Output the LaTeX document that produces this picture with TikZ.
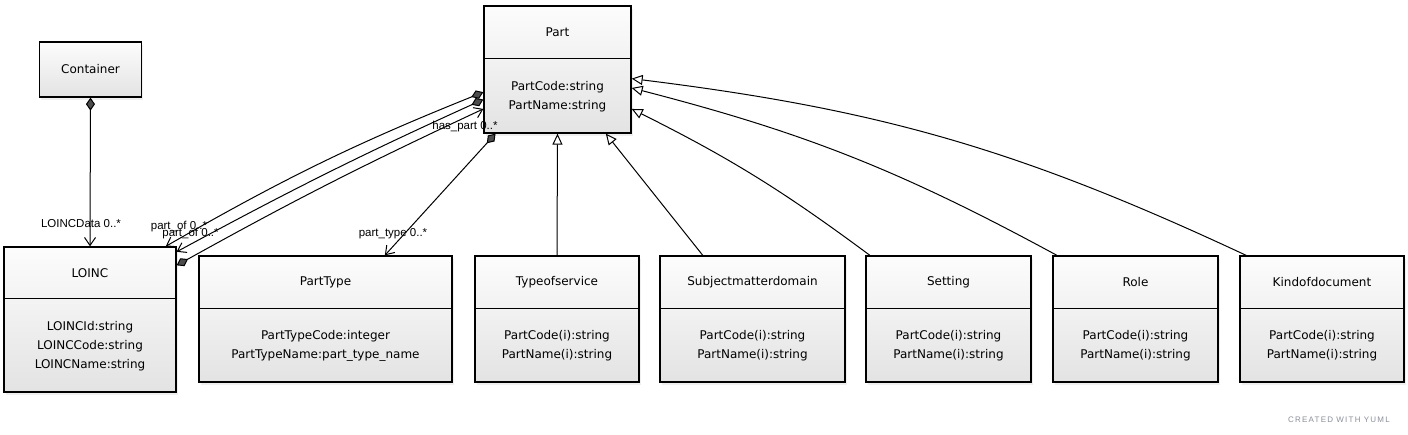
\documentclass[tikz,border=0pt]{standalone}
\usepackage{fontspec}
\newfontfamily\boxfont{DejaVu Sans}
\newfontfamily\labelfont{Liberation Sans}
\newfontfamily\yumlfont[LetterSpace=15]{Liberation Sans}
\usetikzlibrary{arrows.meta,shadows}
\definecolor{yumlgray}{HTML}{8A8F99}
\tikzset{classbox/.style={draw=black, line width=1.3pt, top color=black!1, bottom color=black!11, drop shadow={opacity=0.12, shadow xshift=1.5pt, shadow yshift=-3pt}, inner sep=0pt, minimum height=126pt},
         divline/.style={black, line width=1.2pt},
         boxtext/.style={font=\boxfont\fontsize{12}{19}\selectfont, align=center, inner sep=0pt},
         lbl/.style={font=\labelfont\fontsize{11.5}{12}\selectfont, inner sep=0pt},
         gen/.style={line width=1pt, -{Triangle[length=11pt,width=10pt,fill=white]}},
         comp/.style={line width=1pt, {Diamond[length=13pt,width=9pt,fill=black!70]}-{Straight Barb[length=8pt,width=11pt]}}}

\begin{document}
\begin{tikzpicture}[x=1pt,y=-1pt]
   \useasboundingbox[fill=white] (0,0) rectangle (1408,435);

   \node[classbox, minimum width=102pt, minimum height=55pt]  (cont)    at (  90.5, 69.5) {};
   \node[classbox, minimum width=147pt, minimum height=127pt] (part)    at ( 557.5, 69.5) {};
   \node[classbox, minimum width=172pt, minimum height=145pt] (loinc)   at (  90.0,319.5) {};
   \node[classbox, minimum width=253pt] (ptype)   at ( 325.5,319) {};
   \node[classbox, minimum width=164pt] (tos)     at ( 557.0,319) {};
   \node[classbox, minimum width=185pt] (smd)     at ( 752.5,319) {};
   \node[classbox, minimum width=165pt] (setting) at ( 948.5,319) {};
   \node[classbox, minimum width=165pt] (role)    at (1135.5,319) {};
   \node[classbox, minimum width=164pt] (kod)     at (1322.0,319) {};

   \draw[divline] ([yshift=-53pt]part.north west)    -- ([yshift=-53pt]part.north east);
   \draw[divline] ([yshift=-52pt]loinc.north west)   -- ([yshift=-52pt]loinc.north east);
   \draw[divline] ([yshift=-53pt]ptype.north west)   -- ([yshift=-53pt]ptype.north east);
   \draw[divline] ([yshift=-53pt]tos.north west)     -- ([yshift=-53pt]tos.north east);
   \draw[divline] ([yshift=-53pt]smd.north west)     -- ([yshift=-53pt]smd.north east);
   \draw[divline] ([yshift=-53pt]setting.north west) -- ([yshift=-53pt]setting.north east);
   \draw[divline] ([yshift=-53pt]role.north west)    -- ([yshift=-53pt]role.north east);
   \draw[divline] ([yshift=-53pt]kod.north west)     -- ([yshift=-53pt]kod.north east);

   \node[boxtext] (conttitle)    at (  90.5, 69.5) {Container};
   \node[boxtext] (parttitle)    at ( 557.5, 32.5) {Part};
   \node[boxtext] (loinctitle)   at (  90.0,273.0) {LOINC};
   \node[boxtext] (ptypetitle)   at ( 325.5,282.5) {PartType};
   \node[boxtext] (tostitle)     at ( 557.0,282.5) {Typeofservice};
   \node[boxtext] (smdtitle)     at ( 752.5,282.5) {Subjectmatterdomain};
   \node[boxtext] (settingtitle) at ( 948.5,282.5) {Setting};
   \node[boxtext] (roletitle)    at (1135.5,282.5) {Role};
   \node[boxtext] (kodtitle)     at (1322.0,282.5) {Kindofdocument};

   \node[boxtext] (partattr)    at ( 557.5, 96.5) {PartCode:string\\PartName:string};
   \node[boxtext] (loincattr)   at (  90.0,346.5) {LOINCId:string\\LOINCCode:string\\LOINCName:string};
   \node[boxtext] (ptypeattr)   at ( 325.5,346.0) {PartTypeCode:integer\\PartTypeName:part\_type\_name};
   \node[boxtext] (tosattr)     at ( 557.0,346.0) {PartCode(i):string\\PartName(i):string};
   \node[boxtext] (smdattr)     at ( 752.5,346.0) {PartCode(i):string\\PartName(i):string};
   \node[boxtext] (settingattr) at ( 948.5,346.0) {PartCode(i):string\\PartName(i):string};
   \node[boxtext] (roleattr)    at (1135.5,346.0) {PartCode(i):string\\PartName(i):string};
   \node[boxtext] (kodattr)     at (1322.0,346.0) {PartCode(i):string\\PartName(i):string};

   \draw[comp] (cont.south)  -- (loinc.north);
   \draw[comp] (part.197.7)  to[bend right=4] (loinc.44.8);
   \draw[comp] (part.202.5)  to[bend right=2] (loinc.38.9);
   \draw[comp] (loinc.32.4)  to[bend left=2]  (part.208.3);
   \draw[comp] (part.226.4)  -- (ptype.47.1);

   \draw[gen] (tos.north)       -- (part.south);
   \draw[gen] (smd.128.2)       -- (part.-53.2);
   \draw[gen] (setting.141.6)   to[bend right=5] (part.-28.9);
   \draw[gen] (role.141.3)      to[bend right=7] (part.-14.9);
   \draw[gen] (kod.140.3)       to[bend right=9] (part.-7.4);

   \node[lbl] (ldata)    at ( 81.0,224) {LOINCData 0..*};
   \node[lbl] (lpartof)  at (179.0,227) {part\_of 0..*};
   \node[lbl] (lpartofb) at (190.5,234) {part\_of 0..*};
   \node[lbl] (lhaspart) at (465.0,127) {has\_part 0..*};
   \node[lbl] (lptype)   at (393.0,234) {part\_type 0..*};

   \node[font=\yumlfont\fontsize{8}{9}\selectfont, text=yumlgray, inner sep=0pt] (credit) at (1339,420) {CREATED WITH YUML};
\end{tikzpicture}
\end{document}
